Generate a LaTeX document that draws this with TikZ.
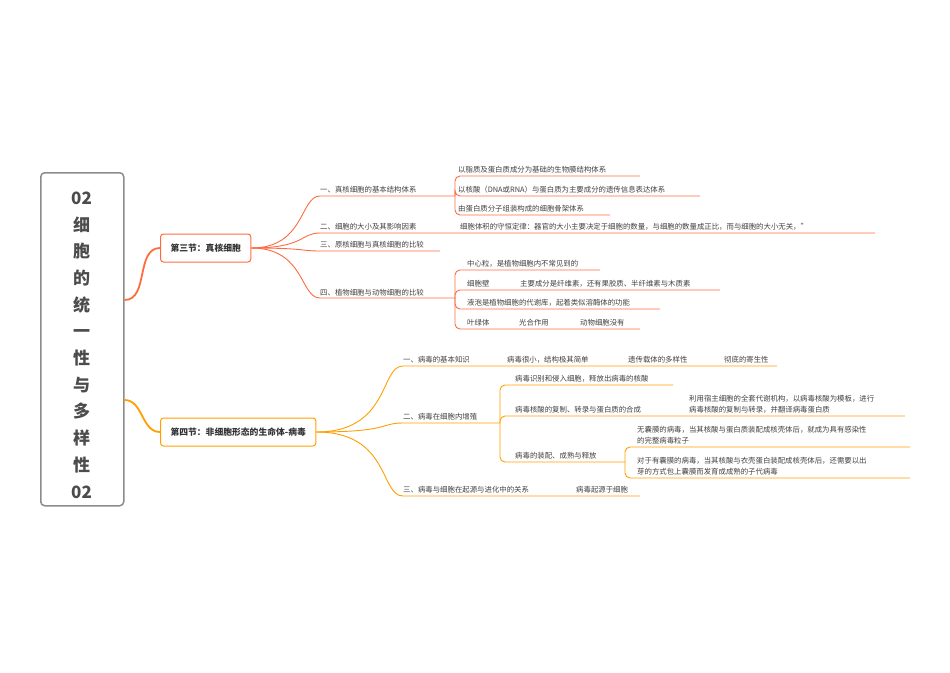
\documentclass[tikz,border=0pt]{standalone}
\usepackage{fontspec}
\setmainfont{Noto Sans CJK SC}
\begin{document}
\begin{tikzpicture}[x=1pt,y=-1pt,
  t/.style={anchor=base west,inner sep=0pt,font=\fontsize{7.4}{10.5}\selectfont,text=black!75},
  rl/.style={draw=red!55!orange!75,line width=0.9pt},
  ol/.style={draw=orange!75!yellow,line width=0.9pt},
  sec/.style={draw,rounded corners=3pt,line width=1pt,minimum height=28pt,font=\bfseries\fontsize{8.8}{10}\selectfont,text=black!80,inner xsep=10pt}]
\useasboundingbox (0,0) rectangle (950,672);
% root
\node[draw=black!45,line width=1.5pt,rounded corners=4pt,minimum width=83pt,minimum height=333pt,anchor=north west] (root) at (40,172) {};
\node[align=center,font=\bfseries\fontsize{17}{26.7}\selectfont,text=black!70] (rt) at (81.5,345) {02\\细\\胞\\的\\统\\一\\性\\与\\多\\样\\性\\02};
% sections
\node[sec,draw=red!55!orange!75,anchor=west] (s1) at (160,248) {第三节：真核细胞};
\node[sec,draw=orange!75!yellow,anchor=west] (s2) at (160,432) {第四节：非细胞形态的生命体-病毒};
\draw[rl,line width=1.8pt] (root.east|-0,300) to[out=0,in=180] (s1.west);
\draw[ol,line width=1.8pt] (root.east|-0,400) to[out=0,in=180] (s2.west);
% section 1 items
\node[t] (a1) at (320,192) {一、真核细胞的基本结构体系};
\node[t] (a2) at (320,229) {二、细胞的大小及其影响因素};
\node[t] (a2c) at (460,229) {细胞体积的守恒定律：器官的大小主要决定于细胞的数量，与细胞的数量成正比，而与细胞的大小无关，"};
\node[t] (a3) at (320,247) {三、原核细胞与真核细胞的比较};
\node[t] (a4) at (320,295) {四、植物细胞与动物细胞的比较};
\foreach \y/\e in {196/455,233/875,251/440,298/455}
  \draw[rl] (s1.east) .. controls (305,248) and (300,\y) .. (320,\y) -- (\e,\y);
% sub of a1
\node[t] (b1) at (458,172) {以脂质及蛋白质成分为基础的生物膜结构体系};
\node[t] (b2) at (458,192) {以核酸（DNA或RNA）与蛋白质为主要成分的遗传信息表达体系};
\node[t] (b3) at (458,211) {由蛋白质分子组装构成的细胞骨架体系};
\foreach \y/\e in {176/640,196/700,215/610}
  \draw[rl,rounded corners=5pt] (455,196) -- (455,\y) -- (\e,\y);
% sub of a4
\node[t] (c1) at (467,266) {中心粒，是植物细胞内不常见到的};
\node[t] (c2) at (467,286) {细胞壁};
\node[t] (c2b) at (520,286) {主要成分是纤维素，还有果胶质、半纤维素与木质素};
\node[t] (c3) at (467,305) {液泡是植物细胞的代谢库，起着类似溶酶体的功能};
\node[t] (c4) at (467,325) {叶绿体};
\node[t] (c4b) at (519,325) {光合作用};
\node[t] (c4c) at (580,325) {动物细胞没有};
\foreach \y/\e in {270/600,290/720,309/660,329/640}
  \draw[rl,rounded corners=5pt] (455,298) -- (455,\y) -- (\e,\y);
% section 2 items
\node[t] (d1) at (403,362) {一、病毒的基本知识};
\node[t] (d1b) at (507,362) {病毒很小，结构极其简单};
\node[t] (d1c) at (628,362) {遗传载体的多样性};
\node[t] (d1d) at (724,362) {彻底的寄生性};
\node[t] (d2) at (403,419) {二、病毒在细胞内增殖};
\node[t] (d3) at (403,492) {三、病毒与细胞在起源与进化中的关系};
\node[t] (d3b) at (576,492) {病毒起源于细胞};
\foreach \y/\e in {366/777,423/500,496/640}
  \draw[ol] (s2.east) .. controls (390,432) and (380,\y) .. (403,\y) -- (\e,\y);
% sub of d2
\node[t] (e1) at (515,381) {病毒识别和侵入细胞，释放出病毒的核酸};
\node[t] (e2) at (515,412) {病毒核酸的复制、转录与蛋白质的合成};
\node[t,align=left] (e2c) at (689,412) {利用宿主细胞的全套代谢机构，以病毒核酸为模板，进行\\病毒核酸的复制与转录，并翻译病毒蛋白质};
\node[t] (e3) at (515,458) {病毒的装配、成熟与释放};
\foreach \y/\e in {385/673,416/905,462/625}
  \draw[ol,rounded corners=5pt] (500,423) -- (500,\y) -- (\e,\y);
\node[t,align=left] (f1) at (637,443) {无囊膜的病毒，当其核酸与蛋白质装配成核壳体后，就成为具有感染性\\的完整病毒粒子};
\node[t,align=left] (f2) at (637,474) {对于有囊膜的病毒，当其核酸与衣壳蛋白装配成核壳体后，还需要以出\\芽的方式包上囊膜而发育成成熟的子代病毒};
\foreach \y in {447,478}
  \draw[ol,rounded corners=5pt] (625,462) -- (625,\y) -- (910,\y);
\end{tikzpicture}
\end{document}
